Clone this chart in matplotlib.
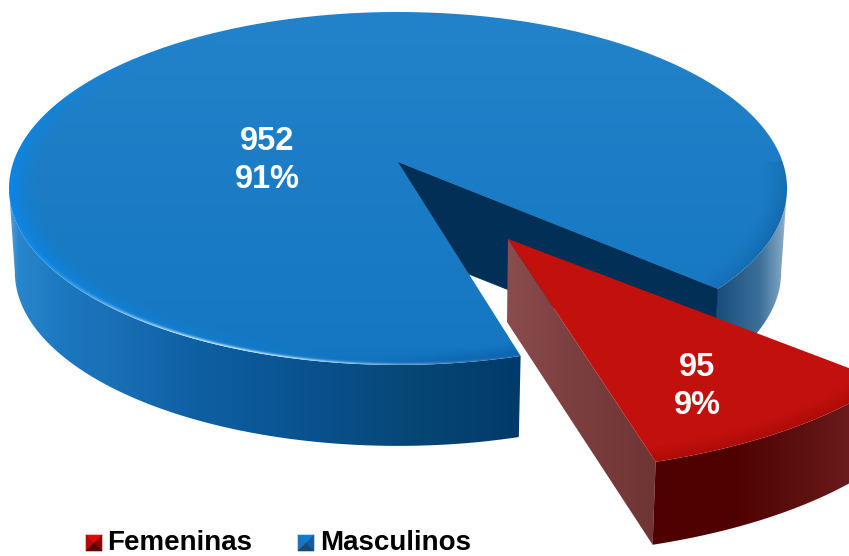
import numpy as np
import matplotlib
matplotlib.use("Agg")
import matplotlib.pyplot as plt
from matplotlib.patches import Polygon

categories = ["Femeninas", "Masculinos"]
values = [95, 952]
percents = [9, 91]

W, H = 849, 556
plt.rcParams['font.family'] = ['Liberation Sans', 'DejaVu Sans']
fig = plt.figure(figsize=(W / 100, H / 100), dpi=100)
ax = fig.add_axes([0, 0, 1, 1])
ax.set_axis_off()

START = 41.5
red_sweep = 360.0 * values[0] / sum(values)
T1, T2 = START, START + red_sweep


def rim(t_deg, cx, cy, A, B, p):
    t = np.radians(t_deg)
    d = 1 - p * np.sin(t)
    return cx + A * np.cos(t) / d, cy + B * np.sin(t) / d


def hexrgb(h):
    return np.array(matplotlib.colors.to_rgb(h))


yy, xx = np.mgrid[0:H, 0:W] + 0.5


def show(img, clip_xy, z):
    im = ax.imshow(img, extent=(0, W, H, 0), aspect='auto', zorder=z, interpolation='bilinear')
    poly = Polygon(clip_xy, closed=True, transform=ax.transData, facecolor='none', edgecolor='none')
    ax.add_patch(poly)
    im.set_clip_path(poly)


def xgrad(stops):
    xs = [s[0] for s in stops]
    cols = np.array([hexrgb(s[1]) for s in stops])
    return np.stack([np.interp(xx, xs, cols[:, i]) for i in range(3)], axis=-1)


def band(ts, top, bottom):
    tx, ty = rim(ts, *top)
    bx, by = rim(ts, *bottom)
    return np.column_stack([np.r_[tx, bx[::-1]], np.r_[ty, by[::-1]]])


# ---- blue slice ----
B_TOP = (398, 162, 384.6, 172.5, 0.15)
B_BOT = (398, 246, 384.6 * 0.985, 172.5 * 0.985, 0.15)
blue_ts = np.linspace(T2, T1 + 360, 500)
t_ext = np.degrees(np.arcsin(B_TOP[4]))

side_grad = xgrad([(8, '#6aa6d6'), (18, '#2a86cc'), (60, '#1c78c0'), (110, '#1a70b6'),
                   (200, '#0e5fa2'), (300, '#0a5391'), (420, '#064674'), (525, '#013a6b'),
                   (700, '#0d4674'), (720, '#1a4f7e'), (760, '#3d7099'), (782, '#7fa4c2'), (790, '#b5cade')])
show(side_grad, band(np.linspace(T2, 180 - t_ext, 200), B_TOP, B_BOT), 2)
show(side_grad, band(np.linspace(T1, t_ext, 100), B_TOP, B_BOT), 2)

wx, wy = rim(T1, *B_TOP)
bx, by = rim(T1, *B_BOT)
ax.add_patch(Polygon([(B_TOP[0], B_TOP[1]), (wx, wy), (bx, by), (B_BOT[0], B_BOT[1])],
                     closed=True, facecolor='#022f55', edgecolor='#022f55', lw=0.5, zorder=3))


def disc_coords(cx, cy, A, B, p):
    x, y = xx - cx, yy - cy
    v = y / (B + p * y)
    u = x * (1 - p * v) / A
    return np.hypot(u, v), np.degrees(np.arctan2(v, u)) % 360


r, a = disc_coords(*B_TOP)
f = np.clip(yy / 350, 0, 1)[..., None]
img = hexrgb('#2383ca') * (1 - f) + hexrgb('#1577c2') * f
bev = np.clip((r - 0.93) / 0.07, 0, 1)[..., None] ** 1.5
front = np.exp(-((a - 165) / 50) ** 2)[..., None]
near = np.exp(-((a - 75) / 18) ** 2)[..., None]
right = np.exp(-((a - 20) / 30) ** 2)[..., None]
img = img * (1 - bev * front) + hexrgb('#0a86e6') * bev * front
img = img * (1 - bev * near) + hexrgb('#0a5ea8') * bev * near
img = img * (1 - bev * right * 0.8) + hexrgb('#1365a8') * bev * right * 0.8
hl = (np.exp(-((1 - r) / 0.008) ** 2) * np.exp(-((a - 112) / 25) ** 2))[..., None]
img = img * (1 - hl * 0.9) + hexrgb('#c8ecff') * hl * 0.9
tx, ty = rim(blue_ts, *B_TOP)
show(img, np.column_stack([np.r_[B_TOP[0], tx], np.r_[B_TOP[1], ty]]), 4)

# ---- red slice ----
R_TOP = (508, 239, 437, 187, 0.2)
R_BOT = (507, 322, 431, 187, 0.2)
red_ts = np.linspace(T1, T2, 80)

show(xgrad([(507, '#8a4c4c'), (570, '#7d4040'), (655, '#6f3434')]),
     [(R_TOP[0], R_TOP[1]), rim(T2, *R_TOP), rim(T2, *R_BOT), (R_BOT[0], R_BOT[1])], 5)
show(xgrad([(650, '#4f0000'), (735, '#500202'), (800, '#5c1010'), (849, '#6b1b1b')]),
     band(red_ts, R_TOP, R_BOT), 5)

r2, a2 = disc_coords(*R_TOP)
bev2 = np.clip((r2 - 0.95) / 0.05, 0, 1)[..., None]
img2 = hexrgb('#c2100c') * (1 - bev2) + hexrgb('#ad0c0a') * bev2
tx, ty = rim(red_ts, *R_TOP)
show(img2, np.column_stack([np.r_[R_TOP[0], tx], np.r_[R_TOP[1], ty]]), 6)

# ---- data labels ----
lab = dict(color='white', fontweight='bold', fontsize=23.5, ha='center', va='center', zorder=8)
ax.text(267, 142, str(values[1]), **lab)
ax.text(267, 180, f"{percents[1]}%", **lab)
ax.text(697, 368, str(values[0]), **lab)
ax.text(697, 405, f"{percents[0]}%", **lab)

# ---- legend ----
leg_cols = [('#e00a0a', '#b00c0c', '#8a0808', '#5a0505'), ('#0a7ed6', '#1a72ba', '#1a5c94', '#174a78')]
leg_x = [86, 298]
leg_tx = [107, 320]
for name, x0, tx0, c in zip(categories, leg_x, leg_tx, leg_cols):
    x1, y0, y1 = x0 + 16, 535, 551
    cx, cy = x0 + 8, y0 + 8
    tris = [[(x0, y0), (x1, y0), (cx, cy)], [(x0, y0), (x0, y1), (cx, cy)],
            [(x1, y0), (x1, y1), (cx, cy)], [(x0, y1), (x1, y1), (cx, cy)]]
    for tri, col in zip(tris, c):
        ax.add_patch(Polygon(tri, facecolor=col, edgecolor=col, lw=0.4, zorder=8))
    ax.text(tx0, 550, name, color='black', fontweight='bold', fontsize=20, ha='left', va='baseline', zorder=8)

ax.set_xlim(0, W)
ax.set_ylim(H, 0)
fig.savefig("out.png", dpi=100, facecolor='white')
